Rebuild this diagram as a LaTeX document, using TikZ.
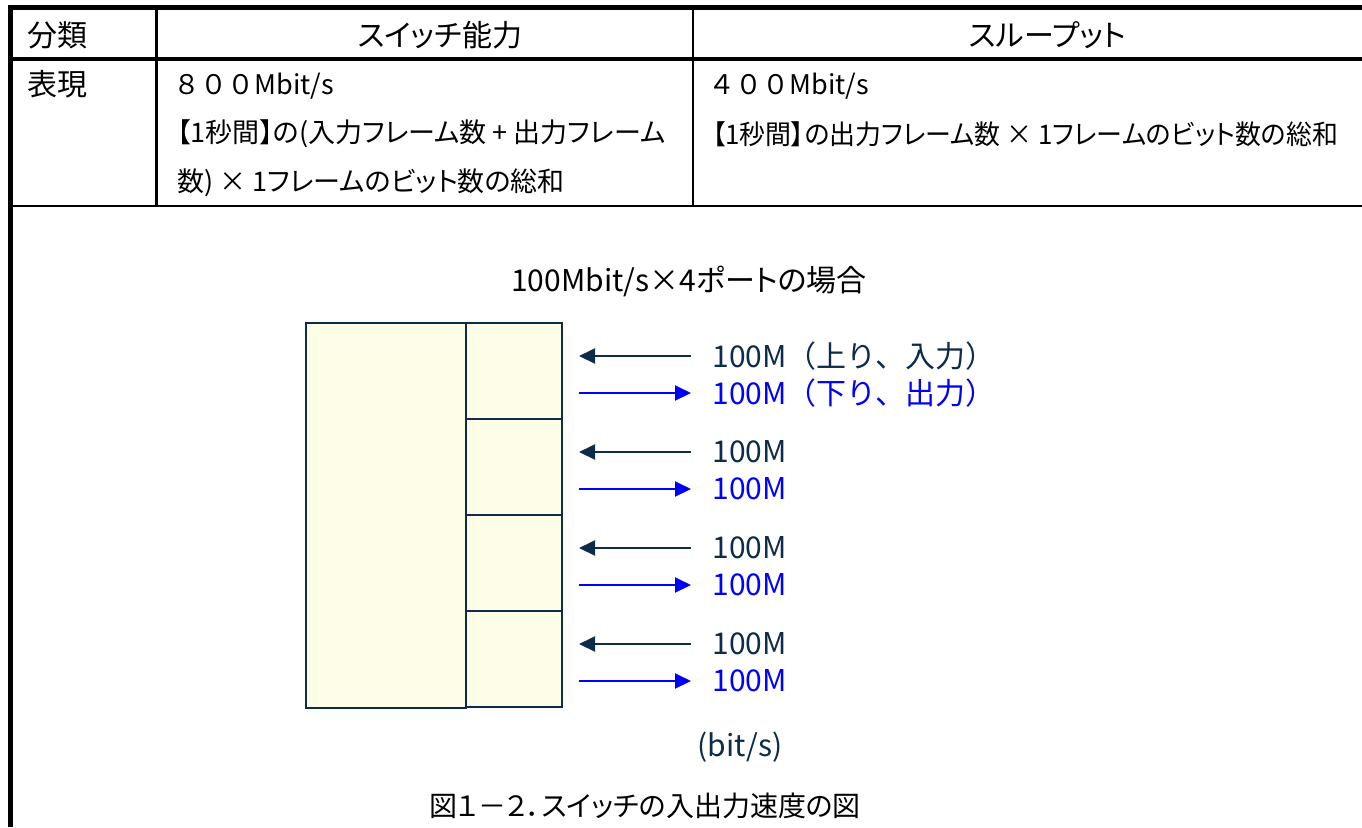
\documentclass[tikz,border=0pt]{standalone}
\usepackage{fontspec}
\setmainfont{Noto Sans CJK JP}[RawFeature=+palt]
\newfontfamily\widefont{Noto Sans CJK JP}
\usetikzlibrary{arrows.meta}

\definecolor{navy}{HTML}{0D2B4A}
\definecolor{portblue}{HTML}{0000FF}
\definecolor{cream}{HTML}{FEFEE8}

\begin{document}
\begin{tikzpicture}[x=0.5pt,y=-0.5pt,
	cell/.style={inner sep=0pt,font=\fontsize{15}{18}\selectfont},
	celltext/.style={inner sep=0pt,anchor=west,font=\fontsize{13.5}{16}\selectfont},
	label/.style={inner sep=0pt,anchor=west,font=\widefont\fontsize{15}{18}\selectfont},
	rule/.style={line width=1.4pt},
	heavyrule/.style={line width=2.5pt},
	corebox/.style={draw=navy,line width=1pt,fill=cream,minimum width=80pt,minimum height=192.5pt,inner sep=0pt},
	portbox/.style={draw=navy,line width=1pt,fill=cream,minimum width=48pt,minimum height=48pt,inner sep=0pt},
	inarrow/.style={draw=navy,line width=1pt,-{Triangle[length=8pt,width=7.5pt]}},
	outarrow/.style={draw=portblue,line width=1pt,-{Triangle[length=8pt,width=7.5pt]}}]

	\useasboundingbox (0,0) rectangle (1362,827);

	% table
	\draw[heavyrule] (8,7.5) -- (1362,7.5);
	\draw[heavyrule] (10.5,5) -- (10.5,827);
	\draw[line width=1.75pt] (10,59) -- (1362,59);
	\draw[rule] (10,206) -- (1362,206);
	\draw[rule] (156.5,7) -- (156.5,206);
	\draw[rule] (693,7) -- (693,206);

	\node[cell,anchor=west] (kind) at (27,35) {分類};
	\node[cell] (cap) at (440,35) {スイッチ能力};
	\node[cell] (thru) at (1048,35) {スループット};

	\node[cell,anchor=west] (expr) at (27,84) {表現};
	\node[celltext,font=\widefont\fontsize{13.5}{16}\selectfont] (capval) at (173,86) {８００Mbit/s};
	\node[celltext] (capdefa) at (177,134) {【1秒間】の(入力フレーム数 + 出力フレーム};
	\node[celltext] (capdefb) at (177,183) {数) × 1フレームのビット数の総和};
	\node[celltext,font=\widefont\fontsize{13.5}{16}\selectfont] (thruval) at (708,86) {４００Mbit/s};
	\node[celltext,xscale=0.96,transform shape] (thrudef) at (712,134) {【1秒間】の出力フレーム数 × 1フレームのビット数の総和};

	% switch
	\node[cell] (title) at (689,281) {100Mbit/s×4ポートの場合};

	\node[corebox] (core) at (386,515.5) {};

	\foreach \i/\intext/\outtext in {1/{100M（上り、入力）}/{100M（下り、出力）},2/100M/100M,3/100M/100M,4/100M/100M}{
		\node[portbox] (port\i) at (514,371+96*\i-96) {};
		\node[label,text=navy] (inlbl\i) at (712,356+96*\i-96) {\intext};
		\node[label,text=portblue] (outlbl\i) at (712,393+96*\i-96) {\outtext};
		\draw[inarrow,shorten <=10.5pt,shorten >=8pt] (inlbl\i.west) -- (inlbl\i.west -| port\i.east);
		\draw[outarrow,shorten <=8pt,shorten >=10.5pt] (outlbl\i.west -| port\i.east) -- (outlbl\i.west);
	}

	\node[label,anchor=center,text=navy] (unit) at (740,747) {(bit/s)};

	\node[cell,font=\fontsize{14}{16}\selectfont] (caption) at (645,806) {図１－２．スイッチの入出力速度の図};

\end{tikzpicture}
\end{document}
